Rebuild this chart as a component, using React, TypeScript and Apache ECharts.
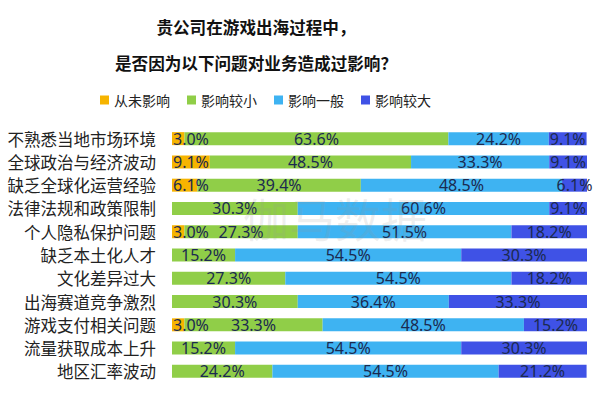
import React, { useEffect, useRef } from "react";
import * as echarts from "echarts";

const categories = [
  "不熟悉当地市场环境",
  "全球政治与经济波动",
  "缺乏全球化运营经验",
  "法律法规和政策限制",
  "个人隐私保护问题",
  "缺乏本土化人才",
  "文化差异过大",
  "出海赛道竞争激烈",
  "游戏支付相关问题",
  "流量获取成本上升",
  "地区汇率波动",
];
const seriesNames = ["从未影响", "影响较小", "影响一般", "影响较大"];
const never = [3.0, 9.1, 6.1, 0, 3.0, 0, 0, 0, 3.0, 0, 0];
const small = [63.6, 48.5, 39.4, 30.3, 27.3, 15.2, 27.3, 30.3, 33.3, 15.2, 24.2];
const medium = [24.2, 33.3, 48.5, 60.6, 51.5, 54.5, 54.5, 36.4, 48.5, 54.5, 54.5];
const large = [9.1, 9.1, 6.1, 9.1, 18.2, 30.3, 18.2, 33.3, 15.2, 30.3, 21.2];
const colors = ["#F6B400", "#90CE48", "#3EB3F2", "#3F52E6"];
const titleLines = ["贵公司在游戏出海过程中，", "是否因为以下问题对业务造成过影响？"];

const FONT = "'Noto Sans CJK SC', 'Noto Sans', sans-serif";
const NUMFONT = "'Noto Sans', 'Noto Sans CJK SC', sans-serif";

export default function App() {
  const ref = useRef<HTMLDivElement>(null);
  useEffect(() => {
    document.body.style.margin = "0";
    if (!ref.current) return;
    const chart = echarts.init(ref.current, undefined, { renderer: "svg" });
    const datas = [never, small, medium, large];
    chart.setOption({
      animation: false,
      backgroundColor: "#ffffff",
      textStyle: { fontFamily: FONT },
      graphic: [
        {
          type: "text",
          x: 256,
          y: 27,
          style: {
            text: titleLines[0],
            font: `bold 16.6px ${FONT}`,
            fill: "#111",
            textAlign: "center",
            textVerticalAlign: "middle",
          },
        },
        {
          type: "text",
          x: 256,
          y: 63,
          style: {
            text: titleLines[1],
            font: `bold 16.6px ${FONT}`,
            fill: "#111",
            textAlign: "center",
            textVerticalAlign: "middle",
          },
        },
        {
          type: "text",
          x: 335,
          y: 217,
          z: 100,
          style: {
            text: "伽马数据",
            font: `46px ${FONT}`,
            fill: "rgba(150,150,150,0.16)",
            textAlign: "center",
            textVerticalAlign: "middle",
          },
        },
      ],
      legend: {
        data: seriesNames,
        left: 95,
        top: 88,
        icon: "rect",
        itemWidth: 9,
        itemHeight: 9,
        itemGap: 17,
        textStyle: { fontSize: 14, color: "#222", fontFamily: FONT },
      },
      grid: { left: 172, right: 13, top: 127, bottom: 13, containLabel: false },
      xAxis: {
        type: "value",
        min: 0,
        max: 100,
        show: false,
      },
      yAxis: {
        type: "category",
        data: categories,
        inverse: true,
        axisLine: { show: false },
        axisTick: { show: false },
        axisLabel: { fontSize: 16.5, color: "#222", margin: 16, fontFamily: FONT },
      },
      series: seriesNames.map((name, i) => ({
        name,
        type: "bar",
        stack: "total",
        barWidth: 13,
        data: datas[i],
        itemStyle: { color: colors[i] },
        label: {
          show: true,
          position: i === 0 ? "insideLeft" : "inside",
          distance: i === 0 ? 1 : 5,
          fontSize: 16,
          color: "#1B2A50",
          fontFamily: NUMFONT,
          formatter: (p: any) => (p.value > 0 ? p.value.toFixed(1) + "%" : ""),
        },
      })),
    });
    return () => chart.dispose();
  }, []);
  return <div ref={ref} style={{ width: 600, height: 396 }} />;
}
